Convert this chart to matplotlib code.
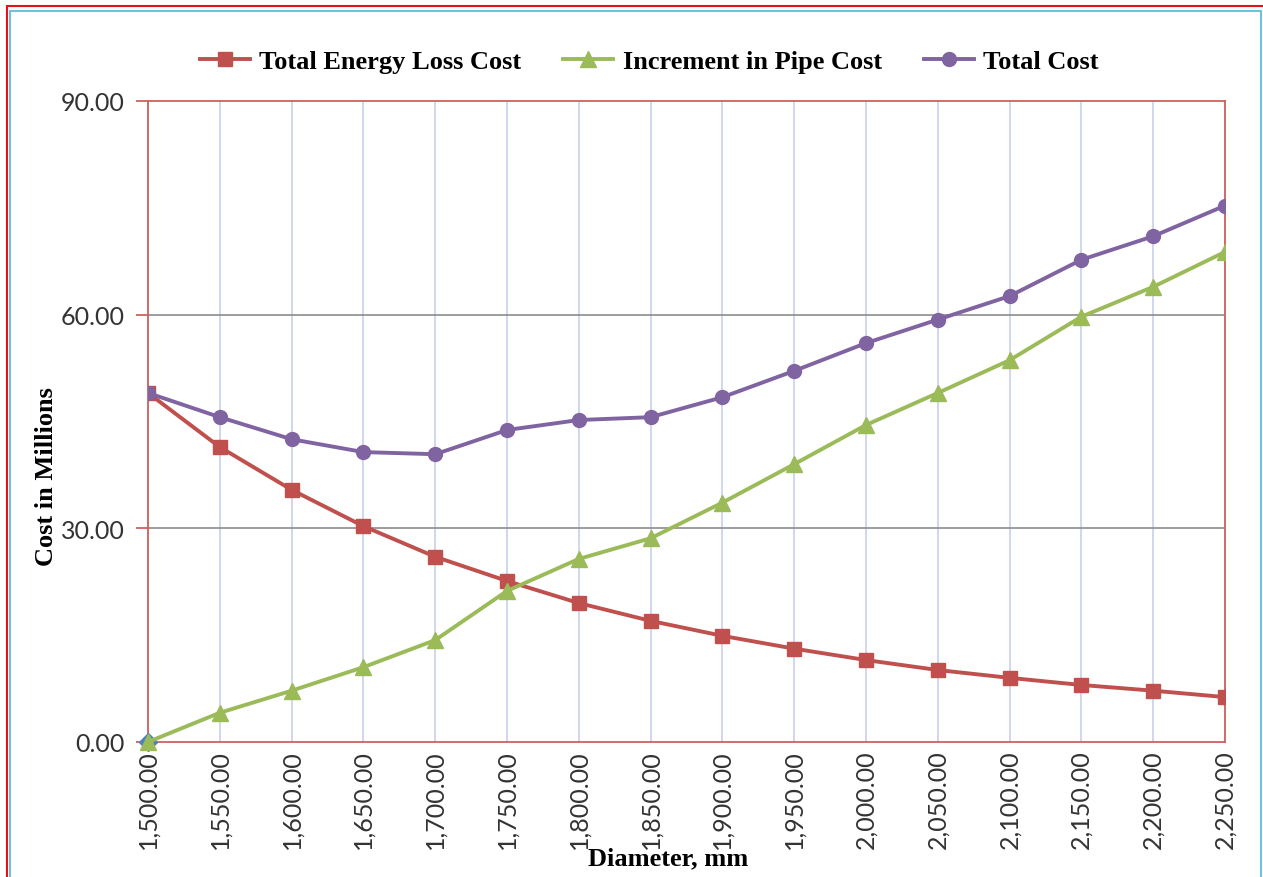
import matplotlib.pyplot as plt
from matplotlib.patches import Rectangle

# data (cost in millions)
diameters = [1500, 1550, 1600, 1650, 1700, 1750, 1800, 1850,
             1900, 1950, 2000, 2050, 2100, 2150, 2200, 2250]
energy_loss = [49.0, 41.4, 35.4, 30.3, 26.0, 22.6, 19.5, 17.0,
               14.9, 13.1, 11.5, 10.1, 9.0, 8.0, 7.2, 6.3]
pipe_increment = [0.0, 4.1, 7.2, 10.5, 14.3, 21.2, 25.7, 28.6,
                  33.6, 39.0, 44.5, 49.0, 53.6, 59.7, 63.9, 68.8]
total_cost = [49.0, 45.6, 42.5, 40.7, 40.4, 43.8, 45.2, 45.6,
              48.4, 52.1, 56.0, 59.3, 62.6, 67.7, 71.0, 75.3]
base_x = [1500]
base_y = [0.0]
y_ticks = [0, 30, 60, 90]

red = "#C0504D"
green = "#9BBB59"
purple = "#8064A2"
blue = "#4F81BD"
spine_red = "#D0605E"

fig = plt.figure(figsize=(12.63, 8.78), dpi=100)
ax = fig.add_axes([0.1172, 0.1538, 0.8527, 0.7301])

ax.plot(diameters, energy_loss, color=red, lw=2.8, marker="s", ms=10,
        label="Total Energy Loss Cost", zorder=4)
ax.plot(diameters, pipe_increment, color=green, lw=2.8, marker="^", ms=11,
        label="Increment in Pipe Cost", zorder=5)
ax.plot(diameters, total_cost, color=purple, lw=2.8, marker="o", ms=10,
        label="Total Cost", zorder=4)
ax.plot(base_x, base_y, color=blue, marker="D", ms=9, ls="none", zorder=3,
        clip_on=False)
# redraw the first triangle on top of the diamond
ax.plot(base_x, base_y, color=green, marker="^", ms=11, ls="none", zorder=6,
        clip_on=False)

ax.set_xlim(diameters[0], diameters[-1])
ax.set_ylim(0, 90)
ax.set_xticks(diameters)
ax.set_xticklabels([f"{d:,.2f}" for d in diameters])
ax.set_yticks(y_ticks)
ax.set_yticklabels([f"{v:.2f}" for v in y_ticks])

for s in ax.spines.values():
    s.set_color(spine_red)
    s.set_linewidth(1.3)

ax.tick_params(axis="x", length=0, pad=5, labelrotation=90, labelsize=18)
ax.tick_params(axis="y", length=9, width=1.3, color=spine_red, pad=8,
               labelsize=18)
for lab in ax.get_xticklabels() + ax.get_yticklabels():
    lab.set_family("Lato")
    lab.set_color("#333333")

ax.xaxis.grid(True, color="#C8D0EC", lw=1.2)
for v in y_ticks[1:-1]:
    ax.axhline(v, color="#8C8C8C", lw=1.2, zorder=1)
ax.set_axisbelow(True)

ax.set_xlabel("Diameter, mm", family="Liberation Serif", weight="bold",
              fontsize=19)
ax.xaxis.set_label_coords(0.483, -0.163)
ax.set_ylabel("Cost in Millions", family="Liberation Serif", weight="bold",
              fontsize=19)
ax.yaxis.set_label_coords(-0.084, 0.415)

handles, labels = ax.get_legend_handles_labels()
leg = fig.legend(handles, labels, loc="center", bbox_to_anchor=(0.514, 0.929),
                 ncol=3, frameon=False, handlelength=1.9, columnspacing=1.6,
                 handletextpad=0.35,
                 prop={"family": "Liberation Serif", "weight": "bold",
                       "size": 19})

# outer frames
fig.patches.append(Rectangle((7 / 1263, -0.1), 1.2, 1 - 7 / 878 + 0.1,
                             transform=fig.transFigure, fill=False,
                             edgecolor="#E8101A", lw=1.5))
fig.patches.append(Rectangle((10 / 1263, -0.1), (1261 - 10) / 1263,
                             1 - 12 / 878 + 0.1, transform=fig.transFigure,
                             fill=False, edgecolor="#6EC3DA", lw=1.5))

fig.savefig("out.png", dpi=100)
